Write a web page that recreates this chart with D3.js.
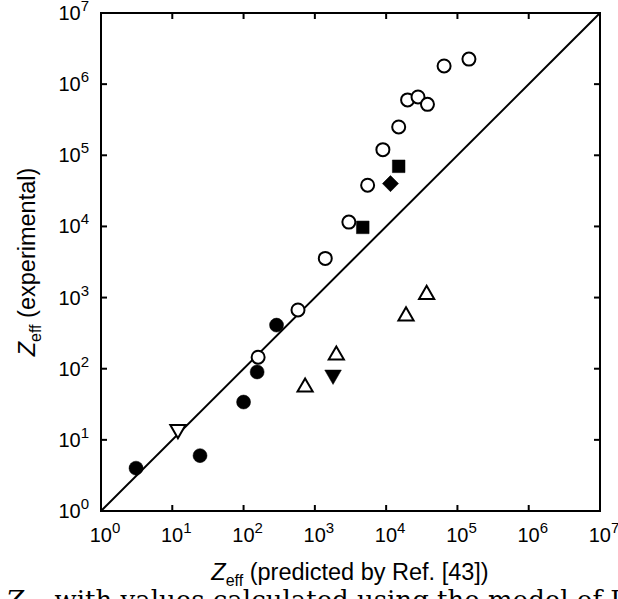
<!DOCTYPE html>
<html>
<head>
<meta charset="utf-8">
<script src="https://cdn.jsdelivr.net/npm/d3@7"></script>
<style>
  body { margin: 0; background: #fff; }
  svg { display: block; }
  text { font-family: "Liberation Sans", Arial, sans-serif; fill: #000; }
</style>
</head>
<body>
<div id="main"></div>
<script>
// data: [predicted, experimental]
const filledCircles = [[3.1, 4], [24.5, 6], [100, 34], [155, 90], [290, 410]];
const openCircles = [[160, 145], [580, 670], [1400, 3550], [3000, 11500], [5500, 38000],
    [9000, 120000], [15000, 250000], [20000, 600000], [28000, 660000], [38000, 520000],
    [65000, 1800000], [145000, 2250000]];
const filledSquares = [[4700, 9700], [15000, 70000]];
const filledDiamonds = [[11500, 40000]];
const openUpTriangles = [[730, 55], [2000, 155], [19000, 550], [37000, 1100]];
const openDownTriangles = [[12, 14]];
const filledDownTriangles = [[1800, 82]];
const tickExps = [0, 1, 2, 3, 4, 5, 6, 7];

const w = 618, h = 599;
const padL = 101, padR = 600, padT = 13, padB = 511;

const svg = d3.select("#main").append("svg").attr("width", w).attr("height", h);

const xScale = d3.scaleLog().domain([1, 1e7]).range([padL, padR]);
const yScale = d3.scaleLog().domain([1, 1e7]).range([padB, padT]);

// diagonal y = x
svg.append("line")
    .attr("x1", xScale(1)).attr("y1", yScale(1))
    .attr("x2", xScale(1e7)).attr("y2", yScale(1e7))
    .attr("stroke", "#000").attr("stroke-width", 2);

// frame
svg.append("rect")
    .attr("x", padL).attr("y", padT)
    .attr("width", padR - padL).attr("height", padB - padT)
    .attr("fill", "none").attr("stroke", "#000").attr("stroke-width", 2);

// inward ticks on all four sides
const tickVals = tickExps.map(e => Math.pow(10, e));
const tl = 6;
tickVals.forEach(v => {
    const x = xScale(v), y = yScale(v);
    svg.append("line").attr("x1", x).attr("x2", x).attr("y1", padB).attr("y2", padB - tl)
        .attr("stroke", "#000").attr("stroke-width", 2);
    svg.append("line").attr("x1", x).attr("x2", x).attr("y1", padT).attr("y2", padT + tl)
        .attr("stroke", "#000").attr("stroke-width", 2);
    svg.append("line").attr("x1", padL).attr("x2", padL + tl).attr("y1", y).attr("y2", y)
        .attr("stroke", "#000").attr("stroke-width", 2);
    svg.append("line").attr("x1", padR).attr("x2", padR - tl).attr("y1", y).attr("y2", y)
        .attr("stroke", "#000").attr("stroke-width", 2);
});

function powLabel(sel, e) {
    sel.append("tspan").text("10");
    sel.append("tspan").attr("dy", -9).style("font-size", "15px").text(e);
}

// x tick labels
tickExps.forEach(e => {
    svg.append("text")
        .attr("x", xScale(Math.pow(10, e)) + 4)
        .attr("y", 542)
        .attr("text-anchor", "middle")
        .style("font-size", "20px")
        .call(powLabel, e);
});

// y tick labels
tickExps.forEach(e => {
    svg.append("text")
        .attr("x", 89)
        .attr("y", yScale(Math.pow(10, e)) + 7)
        .attr("text-anchor", "end")
        .style("font-size", "20px")
        .call(powLabel, e);
});

// axis titles
const xt = svg.append("text").attr("x", 350).attr("y", 580)
    .attr("text-anchor", "middle").style("font-size", "23.5px");
xt.append("tspan").style("font-style", "italic").text("Z");
xt.append("tspan").attr("dy", 6).style("font-size", "16px").text("eff");
xt.append("tspan").attr("dy", -6).text(" (predicted by Ref. [43])");

const yt = svg.append("text")
    .attr("transform", "translate(35," + 262 + ") rotate(-90)")
    .attr("text-anchor", "middle").style("font-size", "23.5px");
yt.append("tspan").style("font-style", "italic").text("Z");
yt.append("tspan").attr("dy", 6).style("font-size", "16px").text("eff");
yt.append("tspan").attr("dy", -6).text(" (experimental)");

// clipped caption line
const cap = svg.append("text")
    .attr("x", 6).attr("y", 609)
    .style("font-family", "'DejaVu Serif', 'Liberation Serif', serif")
    .style("font-size", "26px");
cap.append("tspan").style("font-style", "italic").text("Z");
cap.append("tspan").attr("dy", 6).style("font-size", "17px").text("eff");
cap.append("tspan").attr("dy", -6).text(" with values calculated using the model of L");

// markers
const r = 6.5;
const sym = (type, size) => d3.symbol().type(type).size(size)();
function plot(data, path, fill, rotate) {
    svg.append("g").selectAll("path")
        .data(data)
        .enter()
        .append("path")
        .attr("d", path)
        .attr("transform", d => "translate(" + xScale(d[0]) + "," + yScale(d[1]) + ")" + (rotate ? " rotate(" + rotate + ")" : ""))
        .attr("fill", fill)
        .attr("stroke", "#000")
        .attr("stroke-width", fill === "#fff" ? 2 : 0.5);
}
plot(openCircles, sym(d3.symbolCircle, Math.PI * r * r), "#fff");
plot(filledCircles, sym(d3.symbolCircle, Math.PI * (r + 0.5) * (r + 0.5)), "#000");
plot(filledSquares, sym(d3.symbolSquare, 160), "#000");
plot(filledDiamonds, sym(d3.symbolSquare, 130), "#000", 45);
plot(openUpTriangles, sym(d3.symbolTriangle, 100), "#fff");
plot(openDownTriangles, sym(d3.symbolTriangle, 100), "#fff", 180);
plot(filledDownTriangles, sym(d3.symbolTriangle, 120), "#000", 180);
</script>
</body>
</html>
